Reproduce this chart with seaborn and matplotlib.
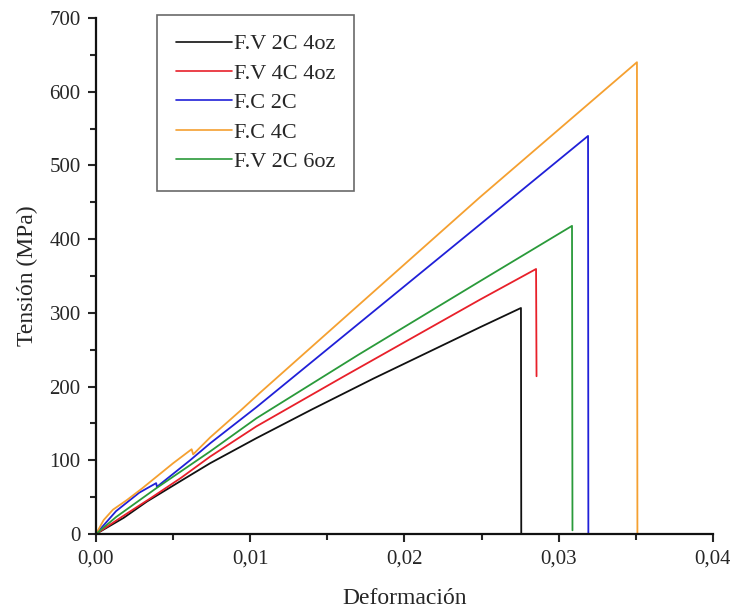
import matplotlib
matplotlib.use("Agg")
import matplotlib.pyplot as plt
from matplotlib.ticker import FixedLocator, FixedFormatter, MultipleLocator
import pandas as pd
import seaborn as sns

# Stress-strain curves (strain, MPa)
fv_2c_4oz_x = [0.0, 0.0018, 0.0033, 0.0055, 0.0074, 0.0104, 0.014, 0.018, 0.0249, 0.02755, 0.02757]
fv_2c_4oz_y = [0.0, 22, 44, 72, 96, 130, 169, 211, 280.5, 306.6, 0.0]

fv_4c_4oz_x = [0.0, 0.0018, 0.0035, 0.0055, 0.0074, 0.0104, 0.016, 0.0249, 0.02853, 0.02856]
fv_4c_4oz_y = [0.0, 25, 48, 76, 105, 146, 213, 318, 359.5, 214]

fc_2c_x = [0.0, 0.0013, 0.0028, 0.0039, 0.00395, 0.0061, 0.0074, 0.0104, 0.018, 0.0249, 0.0319, 0.03192]
fc_2c_y = [0.0, 31, 56, 69, 64, 100, 123, 172, 302, 420, 540, 0.0]

fc_4c_x = [0.0, 0.0005, 0.0011, 0.002, 0.003, 0.005, 0.0062, 0.0063, 0.0074, 0.0094, 0.0106, 0.0249, 0.03507, 0.03510]
fc_4c_y = [0.0, 19, 33, 46, 62, 96, 115, 108, 131, 168, 191, 457, 640, 0.0]

fv_2c_6oz_x = [0.0, 0.0013, 0.0039, 0.0074, 0.0104, 0.017, 0.0249, 0.03086, 0.03089]
fv_2c_6oz_y = [0.0, 23, 62, 112, 157, 243, 343, 418, 5]

series_names = ["F.V 2C 4oz", "F.V 4C 4oz", "F.C 2C", "F.C 4C", "F.V 2C 6oz"]
series_colors = ["#111111", "#e8202a", "#2020d8", "#f5a030", "#2a9a3a"]

x_ticks = [0.0, 0.01, 0.02, 0.03, 0.04]
x_tick_labels = ["0,00", "0,01", "0,02", "0,03", "0,04"]
y_ticks = [0, 100, 200, 300, 400, 500, 600, 700]

sns.set_style("ticks")
plt.rcParams["font.family"] = ["Liberation Serif", "DejaVu Serif"]

frames = []
for name, xs, ys in zip(series_names,
                        [fv_2c_4oz_x, fv_4c_4oz_x, fc_2c_x, fc_4c_x, fv_2c_6oz_x],
                        [fv_2c_4oz_y, fv_4c_4oz_y, fc_2c_y, fc_4c_y, fv_2c_6oz_y]):
  frames.append(pd.DataFrame({"strain": xs, "stress": ys, "sample": name}))
df = pd.concat(frames, ignore_index=True)

fig = plt.figure(figsize=(7.3, 6.14), dpi=100)
ax = fig.add_axes([0.1315, 0.1303, 0.8452, 0.8404])

for name, color in zip(series_names, series_colors):
  sub = df[df["sample"] == name]
  sns.lineplot(x="strain", y="stress", data=sub, sort=False, estimator=None,
               color=color, lw=1.3, label=name, ax=ax)

ax.set_xlim(0, 0.04)
ax.set_ylim(0, 700)
ax.xaxis.set_major_locator(FixedLocator(x_ticks))
ax.xaxis.set_major_formatter(FixedFormatter(x_tick_labels))
ax.xaxis.set_minor_locator(MultipleLocator(0.005))
ax.yaxis.set_major_locator(FixedLocator(y_ticks))
ax.yaxis.set_minor_locator(MultipleLocator(50))

for side in ["top", "right"]:
  ax.spines[side].set_visible(False)
for side in ["left", "bottom"]:
  ax.spines[side].set_linewidth(1.6)
  ax.spines[side].set_color("#111111")
ax.tick_params(which="major", direction="out", length=6, width=1.5, labelsize=15, pad=5)
ax.tick_params(which="minor", direction="out", length=4, width=1.5)

ax.set_xlabel("Deformación", fontsize=17, labelpad=14)
ax.set_ylabel("Tensión (MPa)", fontsize=17, labelpad=8)

leg = ax.legend(loc="upper left", bbox_to_anchor=(0.099, 1.006), borderaxespad=0,
                fontsize=16, frameon=True, fancybox=False, handlelength=2.5,
                handletextpad=0.1, labelspacing=0.4, borderpad=0.85)
leg.get_frame().set_edgecolor("#444444")
leg.get_frame().set_linewidth(1.2)
for line in leg.get_lines():
  line.set_linewidth(1.2)

fig.savefig("out.png", dpi=100)
